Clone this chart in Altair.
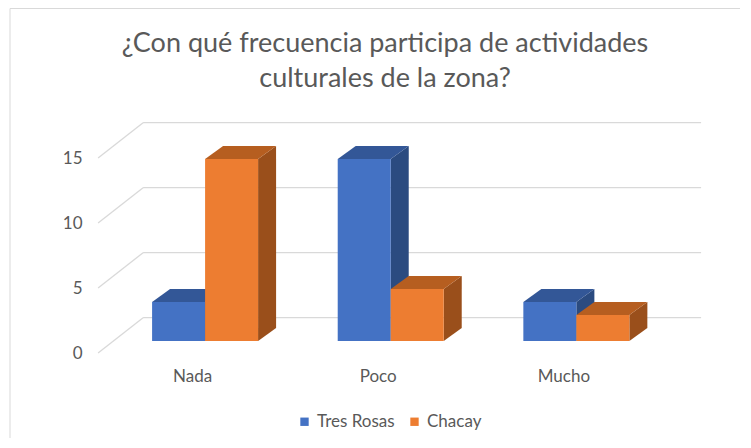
import altair as alt
import pandas as pd

# ---- data ----
categories = ["Nada", "Poco", "Mucho"]
series = ["Tres Rosas", "Chacay"]
tres_rosas = [3, 14, 3]
chacay = [14, 4, 2]
grid_values = [0, 5, 10, 15]
title_lines = ["¿Con qué frecuencia participa de actividades", "culturales de la zona?"]

# ---- style ----
FONT = "Lato"
TXT = "#595959"
GRID = "#d9d9d9"
front_colors = ["#4472C4", "#ED7D31"]
top_colors = ["#335797", "#B65E20"]
side_colors = ["#2B4B80", "#9A4F1B"]

# ---- geometry (data units) ----
X_DOMAIN = [-0.62, 2.72]
Y_DOMAIN = [-1.46, 18.54]
W_PX, H_PX = 620, 260
px_x = W_PX / (X_DOMAIN[1] - X_DOMAIN[0])
px_y = H_PX / (Y_DOMAIN[1] - Y_DOMAIN[0])
BAR_W = 53 / px_x
DX = 18 / px_x
DY = 13 / px_y
BACK_XL, BACK_XR, FRONT_XL = -62 / px_x, 496 / px_x, -107 / px_x
BACK_DY, FRONT_DY = 23.3 / px_y, -12 / px_y

values = {"Tres Rosas": tres_rosas, "Chacay": chacay}
fronts, tops, sides = [], [], []
for i, cat in enumerate(categories):
    for j, s in enumerate(series):
        v = values[s][i]
        x0 = i + (j - 1) * BAR_W
        x1 = x0 + BAR_W
        fid = f"{cat}-{s}"
        fronts.append(dict(cat=cat, series=s, value=v, x0=x0, x1=x1, y0=0, y1=v))
        tops.append(dict(face=fid, series=s, y=v, xl=x0, xr=x1))
        tops.append(dict(face=fid, series=s, y=v + DY, xl=x0 + DX, xr=x1 + DX))
        sides.append(dict(face=fid, series=s, x=x1, ylo=0, yhi=v))
        sides.append(dict(face=fid, series=s, x=x1 + DX, ylo=DY, yhi=v + DY))

grid_rows = []
for g in grid_values:
    grid_rows.append(dict(xa=BACK_XL, xb=BACK_XR, ya=g + BACK_DY, yb=g + BACK_DY))
    grid_rows.append(dict(xa=FRONT_XL, xb=BACK_XL, ya=g + FRONT_DY, yb=g + BACK_DY))

xs = alt.Scale(domain=X_DOMAIN, nice=False, zero=False)
ys = alt.Scale(domain=Y_DOMAIN, nice=False, zero=False)
label_arr = "[" + ",".join(f"'{c}'" for c in categories) + "]"
ax_x = alt.Axis(values=list(range(len(categories))), labelExpr=f"{label_arr}[datum.value]",
                domain=False, ticks=False, tickSize=0, grid=False, title=None,
                labelOffset=-13, labelPadding=8, labelFont=FONT, labelFontSize=17,
                labelColor=TXT)
ax_y = alt.Axis(values=grid_values, domain=False, ticks=False, tickSize=0, grid=False,
                title=None, labelOffset=12, labelPadding=8, labelFont=FONT,
                labelFontSize=17, labelColor=TXT)

border = alt.Chart(pd.DataFrame({"a": [0]})).mark_rect(
    fillOpacity=0, stroke=GRID, strokeWidth=1
).encode(x=alt.value(-80), x2=alt.value(700), y=alt.value(-91.5), y2=alt.value(500))

grid = alt.Chart(pd.DataFrame(grid_rows)).mark_rule(color=GRID, strokeWidth=1.3).encode(
    x=alt.X("xa:Q", scale=xs, axis=ax_x),
    x2="xb:Q",
    y=alt.Y("ya:Q", scale=ys, axis=ax_y),
    y2="yb:Q",
)

side_layer = alt.Chart(pd.DataFrame(sides)).mark_area(orient="vertical").encode(
    x=alt.X("x:Q", scale=xs, axis=ax_x),
    y=alt.Y("ylo:Q", scale=ys, axis=ax_y, stack=None),
    y2="yhi:Q",
    detail="face:N",
    color=alt.Color("series:N", scale=alt.Scale(domain=series, range=side_colors), legend=None),
)

top_layer = alt.Chart(pd.DataFrame(tops)).mark_area(orient="horizontal").encode(
    y=alt.Y("y:Q", scale=ys, axis=ax_y),
    x=alt.X("xl:Q", scale=xs, axis=ax_x, stack=None),
    x2="xr:Q",
    detail="face:N",
    color=alt.Color("series:N", scale=alt.Scale(domain=series, range=top_colors), legend=None),
)

front_layer = alt.Chart(pd.DataFrame(fronts)).mark_rect().encode(
    x=alt.X("x0:Q", scale=xs, axis=ax_x),
    x2="x1:Q",
    y=alt.Y("y0:Q", scale=ys, axis=ax_y),
    y2="y1:Q",
    color=alt.Color(
        "series:N",
        scale=alt.Scale(domain=series, range=front_colors),
        legend=alt.Legend(
            title=None, orient="none", legendX=206, legendY=313, direction="horizontal",
            symbolType="square", symbolSize=70, symbolStrokeWidth=0, labelFont=FONT,
            labelFontSize=17, labelColor=TXT, columnPadding=11, labelOffset=4,
        ),
    ),
)

chart = (
    alt.layer(border, grid, side_layer, top_layer, front_layer)
    .resolve_scale(color="independent")
    .properties(
        width=W_PX,
        height=H_PX,
        autosize=alt.AutoSizeParams(type="none"),
        padding={"left": 82, "top": 92, "right": 30, "bottom": 78},
        title=alt.TitleParams(
            text=title_lines, font=FONT, fontSize=27, fontWeight="normal", color=TXT,
            anchor="middle", frame="group", dx=-15, lineHeight=35, offset=-85,
        ),
    )
    .configure_view(stroke=None)
)

chart.save("out.html", embed_options={"renderer": "svg", "actions": False})
